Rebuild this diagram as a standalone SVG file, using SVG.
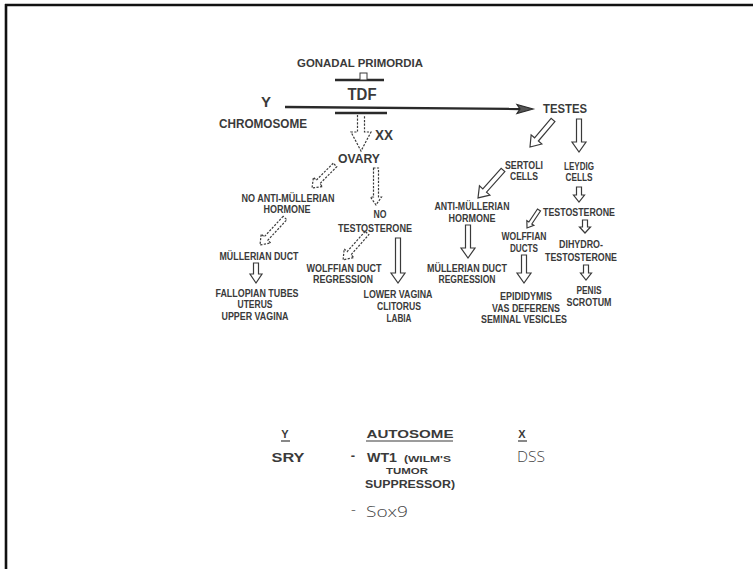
<svg xmlns="http://www.w3.org/2000/svg" width="753" height="569" viewBox="0 0 753 569">
  <style>
    .lbl { font-family: "Liberation Sans", Arial, sans-serif; font-weight: bold; fill: #3a3a3a; text-anchor: middle; }
    .s10 { font-size: 10px; }
    .s11 { font-size: 11px; }
    .s13 { font-size: 13px; }
    .hand { font-family: "Open Sans", "DejaVu Sans", sans-serif; font-weight: 300; fill: #444; font-size: 15px; }
    .arrow { fill: #fff; stroke: #3a3a3a; stroke-width: 1.2; stroke-linejoin: miter; }
    .dash { stroke-dasharray: 2.2 1.4; }
    .bar { stroke: #2a2a2a; stroke-width: 2.4; fill: none; }
    .uline { stroke: #3a3a3a; stroke-width: 1.2; }
  </style>

  <rect x="0" y="0" width="753" height="569" fill="#fff"/>
  <!-- frame edges (top and left) -->
  <line x1="5" y1="5" x2="753" y2="5" stroke="#111" stroke-width="2.6"/>
  <line x1="6" y1="4" x2="6" y2="569" stroke="#111" stroke-width="2.6"/>

  <!-- connectors -->
  <g id="connectors">
    <!-- Y chromosome to testes -->
    <line x1="285" y1="107" x2="520" y2="109" stroke="#2a2a2a" stroke-width="2.4"/>
    <path d="M517,104.5 L533,109 L517,113.5 L520,109 Z" fill="#555" stroke="#2a2a2a" stroke-width="1.2"/>
    <!-- TDF bars -->
    <line class="bar" x1="335" y1="80" x2="384" y2="80"/>
    <rect x="360" y="73" width="7" height="7" fill="#fff" stroke="#3a3a3a" stroke-width="1"/>
    <line class="bar" x1="335" y1="113" x2="387" y2="113"/>

    <!-- XX path to ovary (dashed) -->
    <path class="arrow dash" d="M357.5,115 V132 H351 L361,151 L371,132 H364.5 V115"/>

    <!-- testes to Sertoli cells -->
    <path class="arrow" transform="translate(553,120) rotate(40.4)" d="M-2.5,0 V25.5 H-7 L0,35.5 L7,25.5 H2.5 V0 Z"/>
    <!-- testes to Leydig cells -->
    <path class="arrow" d="M576.5,119 V142 H572 L579,152 L586,142 H581.5 V119 Z"/>
    <!-- Sertoli to AMH -->
    <path class="arrow" transform="translate(503,170) rotate(41.8)" d="M-2.5,0 V27.5 H-7 L0,37.5 L7,27.5 H2.5 V0 Z"/>
    <!-- Leydig to testosterone -->
    <path class="arrow" d="M576.5,187 V195 H573.5 L579,202 L584.5,195 H581.5 V187 Z"/>
    <!-- testosterone to Wolffian ducts -->
    <path class="arrow" transform="translate(539,210) rotate(33.7)" d="M-1.8,0 V15.6 H-4.2 L0,21.6 L4.2,15.6 H1.8 V0 Z"/>
    <!-- testosterone to dihydrotestosterone -->
    <path class="arrow" d="M582.5,220 V227 H579.5 L585,233 L590.5,227 H587.5 V220 Z"/>
    <!-- dihydrotestosterone to penis/scrotum -->
    <path class="arrow" d="M583.5,265 V273 H580.5 L586,280 L591.5,273 H588.5 V265 Z"/>
    <!-- AMH to Mullerian regression -->
    <path class="arrow" d="M465.5,225 V248 H461 L468,258 L475,248 H470.5 V225 Z"/>
    <!-- Wolffian ducts to epididymis -->
    <path class="arrow" d="M521.5,255 V273 H517 L524,283 L531,273 H526.5 V255 Z"/>
    <!-- no testosterone to lower vagina -->
    <path class="arrow" d="M395.5,238 V273 H391 L398,283 L405,273 H400.5 V238 Z"/>
    <!-- Mullerian duct to fallopian tubes -->
    <path class="arrow" d="M253.5,263 V274 H250 L256,283 L262,274 H258.5 V263 Z"/>

    <!-- dashed paths from ovary -->
    <path class="arrow dash" d="M373.5,168 V197 H370.5 L376,205 L381.5,197 H378.5 V168 Z"/>
    <path class="arrow dash" transform="translate(335,165) rotate(45)" d="M-2.5,0 V24 H-6.5 L0,32.5 L6.5,24 H2.5 V0 Z"/>
    <path class="arrow dash" transform="translate(285,218) rotate(42.8)" d="M-2.5,0 V28 H-6.5 L0,36.8 L6.5,28 H2.5 V0 Z"/>
    <path class="arrow dash" transform="translate(367,233) rotate(41.6)" d="M-2.5,0 V27 H-6.5 L0,36 L6.5,27 H2.5 V0 Z"/>
  </g>

  <!-- nodes -->
  <g id="gonadal-primordia"><text class="lbl s11" x="360" y="67" textLength="126" lengthAdjust="spacingAndGlyphs">GONADAL PRIMORDIA</text></g>
  <g id="tdf"><text class="lbl" style="font-size:16px" x="362" y="100" textLength="29" lengthAdjust="spacingAndGlyphs">TDF</text></g>
  <g id="y-chromosome">
    <text class="lbl" style="font-size:15px" x="266" y="107">Y</text>
    <text class="lbl" style="font-size:12px" x="263" y="128" textLength="88" lengthAdjust="spacingAndGlyphs">CHROMOSOME</text>
  </g>
  <g id="testes"><text class="lbl s13" x="565" y="113" textLength="44" lengthAdjust="spacingAndGlyphs">TESTES</text></g>
  <g id="xx"><text class="lbl" style="font-size:14px" x="384" y="140" textLength="18" lengthAdjust="spacingAndGlyphs">XX</text></g>
  <g id="ovary"><text class="lbl s13" x="359" y="163" textLength="42" lengthAdjust="spacingAndGlyphs">OVARY</text></g>

  <g id="sertoli-cells">
    <text class="lbl s10" x="524" y="169" textLength="38" lengthAdjust="spacingAndGlyphs">SERTOLI</text>
    <text class="lbl s10" x="524" y="180" textLength="28" lengthAdjust="spacingAndGlyphs">CELLS</text>
  </g>
  <g id="leydig-cells">
    <text class="lbl s10" x="579" y="170" textLength="30" lengthAdjust="spacingAndGlyphs">LEYDIG</text>
    <text class="lbl s10" x="579" y="181" textLength="27" lengthAdjust="spacingAndGlyphs">CELLS</text>
  </g>
  <g id="testosterone"><text class="lbl s10" x="579" y="216" textLength="72" lengthAdjust="spacingAndGlyphs">TESTOSTERONE</text></g>
  <g id="wolffian-ducts">
    <text class="lbl s10" x="524" y="240" textLength="45" lengthAdjust="spacingAndGlyphs">WOLFFIAN</text>
    <text class="lbl s10" x="524" y="252" textLength="28" lengthAdjust="spacingAndGlyphs">DUCTS</text>
  </g>
  <g id="dihydrotestosterone">
    <text class="lbl s10" x="581" y="248" textLength="44" lengthAdjust="spacingAndGlyphs">DIHYDRO-</text>
    <text class="lbl s10" x="581" y="261" textLength="72" lengthAdjust="spacingAndGlyphs">TESTOSTERONE</text>
  </g>
  <g id="penis-scrotum">
    <text class="lbl s10" x="589" y="294" textLength="25" lengthAdjust="spacingAndGlyphs">PENIS</text>
    <text class="lbl s10" x="589" y="306" textLength="45" lengthAdjust="spacingAndGlyphs">SCROTUM</text>
  </g>
  <g id="amh">
    <text class="lbl s10" x="472" y="210" textLength="75" lengthAdjust="spacingAndGlyphs">ANTI-MÜLLERIAN</text>
    <text class="lbl s10" x="472" y="222" textLength="47" lengthAdjust="spacingAndGlyphs">HORMONE</text>
  </g>
  <g id="mullerian-regression">
    <text class="lbl s10" x="467" y="272" textLength="80" lengthAdjust="spacingAndGlyphs">MÜLLERIAN DUCT</text>
    <text class="lbl s10" x="467" y="283" textLength="57" lengthAdjust="spacingAndGlyphs">REGRESSION</text>
  </g>
  <g id="epididymis">
    <text class="lbl s10" x="526" y="300" textLength="52" lengthAdjust="spacingAndGlyphs">EPIDIDYMIS</text>
    <text class="lbl s10" x="526" y="312" textLength="68" lengthAdjust="spacingAndGlyphs">VAS DEFERENS</text>
    <text class="lbl s10" x="524" y="323" textLength="86" lengthAdjust="spacingAndGlyphs">SEMINAL VESICLES</text>
  </g>

  <g id="no-testosterone">
    <text class="lbl s10" x="380" y="218" textLength="13" lengthAdjust="spacingAndGlyphs">NO</text>
    <text class="lbl s10" x="375" y="232" textLength="74" lengthAdjust="spacingAndGlyphs">TESTOSTERONE</text>
  </g>
  <g id="lower-vagina">
    <text class="lbl s10" x="398" y="298" textLength="69" lengthAdjust="spacingAndGlyphs">LOWER VAGINA</text>
    <text class="lbl s10" x="399" y="310" textLength="44" lengthAdjust="spacingAndGlyphs">CLITORUS</text>
    <text class="lbl s10" x="399" y="322" textLength="25" lengthAdjust="spacingAndGlyphs">LABIA</text>
  </g>
  <g id="no-amh">
    <text class="lbl s10" x="288" y="202" textLength="93" lengthAdjust="spacingAndGlyphs">NO ANTI-MÜLLERIAN</text>
    <text class="lbl s10" x="287" y="213" textLength="47" lengthAdjust="spacingAndGlyphs">HORMONE</text>
  </g>
  <g id="mullerian-duct"><text class="lbl s10" x="259" y="260" textLength="79" lengthAdjust="spacingAndGlyphs">MÜLLERIAN DUCT</text></g>
  <g id="fallopian">
    <text class="lbl s10" x="257" y="297" textLength="83" lengthAdjust="spacingAndGlyphs">FALLOPIAN TUBES</text>
    <text class="lbl s10" x="255" y="308" textLength="35" lengthAdjust="spacingAndGlyphs">UTERUS</text>
    <text class="lbl s10" x="255" y="320" textLength="67" lengthAdjust="spacingAndGlyphs">UPPER VAGINA</text>
  </g>
  <g id="wolffian-regression">
    <text class="lbl s10" x="344" y="272" textLength="75" lengthAdjust="spacingAndGlyphs">WOLFFIAN DUCT</text>
    <text class="lbl s10" x="343" y="283" textLength="60" lengthAdjust="spacingAndGlyphs">REGRESSION</text>
  </g>

  <!-- gene table -->
  <g id="gene-table">
    <text class="lbl s11" x="285" y="438">Y</text>
    <line class="uline" x1="281" y1="441" x2="290" y2="441"/>
    <text class="lbl s11" x="410" y="438" textLength="87" lengthAdjust="spacingAndGlyphs">AUTOSOME</text>
    <line class="uline" x1="366" y1="441" x2="453" y2="441"/>
    <text class="lbl s11" x="522" y="438">X</text>
    <line class="uline" x1="518" y1="441" x2="527" y2="441"/>

    <text class="lbl s13" x="288" y="462" textLength="33" lengthAdjust="spacingAndGlyphs">SRY</text>
    <text class="lbl s13" x="353" y="460">-</text>
    <text class="lbl s13" x="382" y="462" textLength="30" lengthAdjust="spacingAndGlyphs">WT1</text>
    <text class="lbl" style="font-size:9px" x="427.5" y="462" textLength="47" lengthAdjust="spacingAndGlyphs">(WILM'S</text>
    <text class="lbl" style="font-size:9px" x="407" y="474" textLength="42" lengthAdjust="spacingAndGlyphs">TUMOR</text>
    <text class="lbl s11" x="410" y="488" textLength="90" lengthAdjust="spacingAndGlyphs">SUPPRESSOR)</text>

    <text class="hand" x="351" y="514">-</text>
    <text class="hand" x="366" y="517" textLength="42" lengthAdjust="spacingAndGlyphs">Sox9</text>
    <text class="hand" x="517" y="462" textLength="28" lengthAdjust="spacingAndGlyphs">DSS</text>
  </g>
</svg>
